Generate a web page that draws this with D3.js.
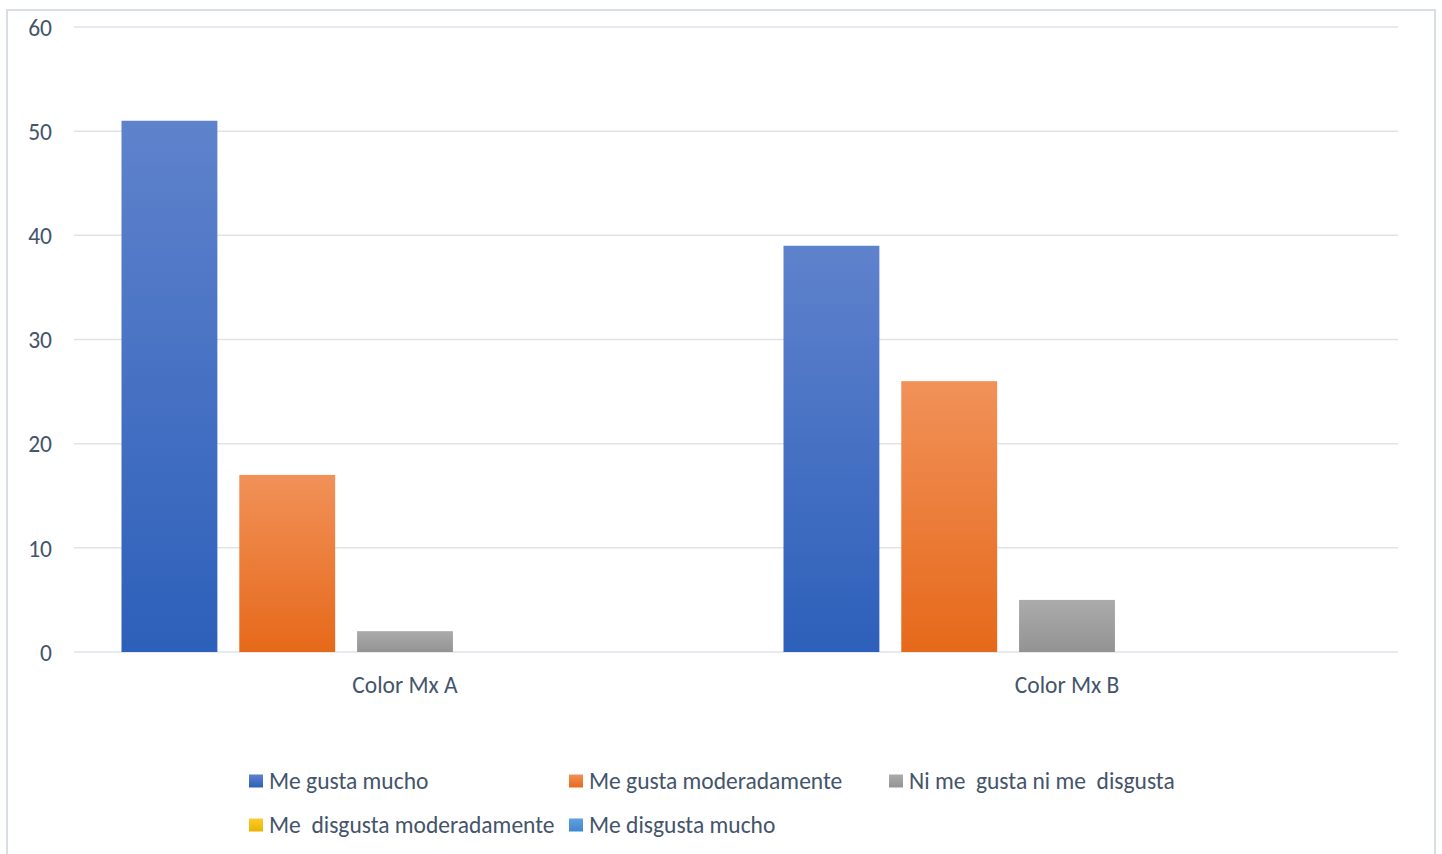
<!DOCTYPE html>
<html>
<head>
<meta charset="utf-8">
<script src="https://cdn.jsdelivr.net/npm/d3@7"></script>
<style>
  html, body { margin: 0; padding: 0; background: #ffffff; }
  svg { display: block; }
  text { font-family: Carlito, Lato, "Open Sans", sans-serif; fill: #44546a; }
</style>
</head>
<body>
<svg id="chart" width="1442" height="854"></svg>
<script>
// Chart data
const categories = ["Color Mx A", "Color Mx B"];
const seriesNames = [
  "Me gusta mucho",
  "Me gusta moderadamente",
  "Ni me  gusta ni me  disgusta",
  "Me  disgusta moderadamente",
  "Me disgusta mucho"
];
const valuesMeGustaMucho = [51, 39];
const valuesMeGustaModeradamente = [17, 26];
const valuesNiMeGusta = [2, 5];
const valuesMeDisgustaModeradamente = [0, 0];
const valuesMeDisgustaMucho = [0, 0];
const yTicks = [0, 10, 20, 30, 40, 50, 60];

const seriesValues = [
  valuesMeGustaMucho,
  valuesMeGustaModeradamente,
  valuesNiMeGusta,
  valuesMeDisgustaModeradamente,
  valuesMeDisgustaMucho
];

// Top / bottom colours of each series' vertical gradient
const seriesColors = [
  ["#5f82cc", "#2d60ba"],
  ["#f19159", "#e6691a"],
  ["#ababab", "#939393"],
  ["#ffcb2e", "#e9b300"],
  ["#62a0dd", "#3f87cf"]
];

const FONT = "Carlito, Lato, 'Open Sans', sans-serif";
const FONT_SIZE = 23.5;

const svg = d3.select("#chart");
const margin = { left: 74, right: 1398, top: 27, bottom: 652 };

// Outer frame
svg.append("rect")
  .attr("x", 7).attr("y", 10)
  .attr("width", 1428).attr("height", 860)
  .attr("fill", "none")
  .attr("stroke", "#d9dee5")
  .attr("stroke-width", 2);

// Gradients
const defs = svg.append("defs");
seriesColors.forEach((c, i) => {
  const g = defs.append("linearGradient")
    .attr("id", "grad" + i)
    .attr("x1", 0).attr("y1", 0).attr("x2", 0).attr("y2", 1);
  g.append("stop").attr("offset", "0%").attr("stop-color", c[0]);
  g.append("stop").attr("offset", "100%").attr("stop-color", c[1]);
});

// Scales
const y = d3.scaleLinear().domain([0, 60]).range([margin.bottom, margin.top]);
const x0 = d3.scaleBand().domain(categories).range([margin.left, margin.right]).padding(0);
const x1 = d3.scaleBand()
  .domain(d3.range(seriesNames.length))
  .range([47.5, x0.bandwidth() - 47.5])
  .paddingInner(0.186)
  .paddingOuter(0);

// Gridlines
svg.append("g")
  .selectAll("line")
  .data(yTicks)
  .join("line")
  .attr("x1", margin.left).attr("x2", margin.right)
  .attr("y1", d => y(d)).attr("y2", d => y(d))
  .attr("stroke", "#dfe3e8")
  .attr("stroke-width", 1.5);

// Y axis labels
const yAxis = d3.axisLeft(y).tickValues(yTicks).tickSize(0).tickPadding(0);
const yg = svg.append("g")
  .attr("transform", `translate(52,0)`)
  .call(yAxis);
yg.select(".domain").remove();
yg.selectAll("text")
  .attr("font-size", FONT_SIZE)
  .attr("dy", "0.35em")
  .style("font-family", FONT)
  .attr("fill", "#44546a");

// Bars
const groups = svg.append("g")
  .selectAll("g")
  .data(categories)
  .join("g")
  .attr("transform", d => `translate(${x0(d)},0)`);

groups.selectAll("rect")
  .data((d, ci) => seriesValues.map((vals, si) => ({ si, v: vals[ci] })))
  .join("rect")
  .attr("x", d => x1(d.si))
  .attr("width", x1.bandwidth())
  .attr("y", d => y(d.v))
  .attr("height", d => y(0) - y(d.v))
  .attr("fill", d => `url(#grad${d.si})`);

// X axis labels
const xAxis = d3.axisBottom(x0).tickSize(0).tickPadding(0);
const xg = svg.append("g")
  .attr("transform", `translate(0,${margin.bottom + 33})`)
  .call(xAxis);
xg.select(".domain").remove();
xg.selectAll("text")
  .attr("font-size", FONT_SIZE)
  .attr("dy", "0.35em")
  .style("font-family", FONT)
  .attr("fill", "#44546a");

// Legend
const legendPos = [
  [249, 781], [569, 781], [889, 781],
  [249, 825], [569, 825]
];
const legend = svg.append("g")
  .selectAll("g")
  .data(seriesNames)
  .join("g")
  .attr("transform", (d, i) => `translate(${legendPos[i][0]},${legendPos[i][1]})`);

legend.append("rect")
  .attr("x", 0).attr("y", -6.5)
  .attr("width", 14).attr("height", 13)
  .attr("fill", (d, i) => `url(#grad${i})`);

legend.append("text")
  .attr("x", 20)
  .attr("dy", "0.35em")
  .attr("font-size", FONT_SIZE)
  .style("white-space", "pre")
  .attr("xml:space", "preserve")
  .text(d => d);
</script>
</body>
</html>
